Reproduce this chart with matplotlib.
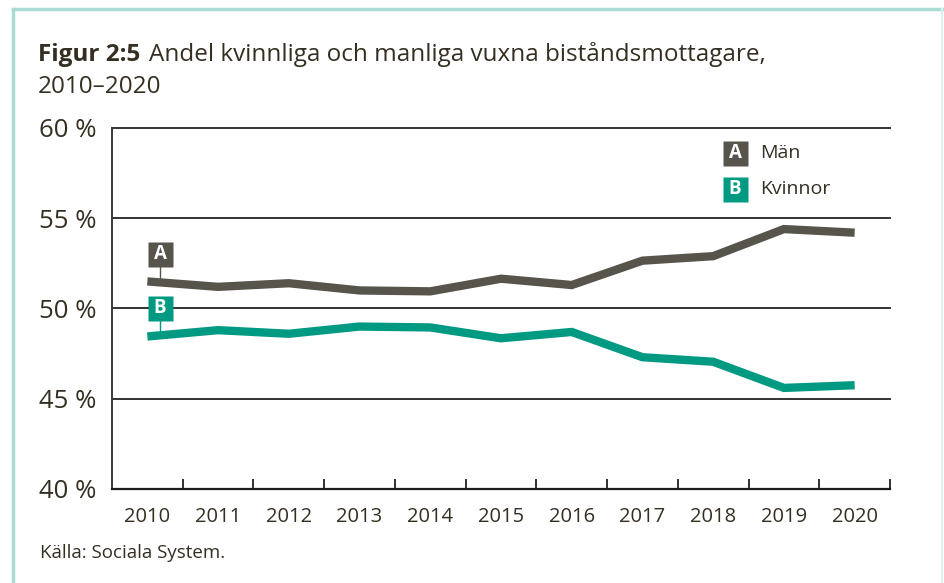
import matplotlib
matplotlib.use("Agg")
import matplotlib.pyplot as plt
from matplotlib.lines import Line2D
import numpy as np

years = ["2010", "2011", "2012", "2013", "2014", "2015", "2016", "2017", "2018", "2019", "2020"]
man = [51.5, 51.2, 51.4, 51.0, 50.95, 51.65, 51.3, 52.65, 52.9, 54.4, 54.2]
kvinnor = [48.45, 48.8, 48.6, 49.0, 48.95, 48.35, 48.7, 47.3, 47.05, 45.6, 45.75]
y_ticks = [40, 45, 50, 55, 60]

GREY = "#57544c"
TEAL = "#009a82"
TXT = "#352f22"
W, H = 944, 583

plt.rcParams["font.family"] = ["Open Sans", "DejaVu Sans"]

fig = plt.figure(figsize=(W / 100, H / 100), dpi=100)
ax = fig.add_axes([112 / W, 1 - 489 / H, (890 - 112) / W, (489 - 128) / H])

x = np.arange(len(years))
ax.plot(x, man, color=GREY, lw=6, solid_joinstyle="miter", solid_capstyle="butt", zorder=3)
ax.plot(x, kvinnor, color=TEAL, lw=6, solid_joinstyle="miter", solid_capstyle="butt", zorder=3)

ax.set_xlim(-0.5, len(years) - 0.5)
ax.set_ylim(40, 60)
ax.set_yticks(y_ticks)
ax.set_yticklabels([f"{v} %" for v in y_ticks])
for v in y_ticks[1:]:
    ax.axhline(v, color="#333333", lw=1.4, zorder=1, clip_on=False)

ax.set_xticks(x)
ax.set_xticklabels(years)
ax.set_xticks(np.arange(0.5, len(years)), minor=True)
ax.tick_params(axis="x", which="major", length=0, pad=13, labelsize=14.5, labelcolor=TXT)
ax.tick_params(axis="x", which="minor", direction="in", length=7, width=1.3, color="#222222")
ax.tick_params(axis="y", length=0, pad=11, labelsize=18.5, labelcolor=TXT)

for s in ["top", "right"]:
    ax.spines[s].set_visible(False)
ax.spines["left"].set_color("#3a3a3a")
ax.spines["left"].set_linewidth(1.4)
ax.spines["bottom"].set_color("#1a1a1a")
ax.spines["bottom"].set_linewidth(1.6)


def badge(xd, yd, letter, color):
    ax.plot(xd, yd, marker="s", ms=18, mfc=color, mec="none", zorder=5, clip_on=False)
    ax.text(xd, yd, letter, ha="center", va="center", color="white", fontsize=13.5,
            fontweight="bold", zorder=6)


# line labels with leaders
lx = 0.18
ax.plot([lx, lx], [man[0], 53.0], color=GREY, lw=1, zorder=2)
badge(lx, 53.0, "A", GREY)
ax.plot([lx, lx], [kvinnor[0], 50.0], color=TEAL, lw=1, zorder=2)
badge(lx, 50.0, "B", TEAL)

# legend
badge(8.31, 58.6, "A", GREY)
ax.text(8.67, 58.6, "Män", ha="left", va="center", fontsize=14, color=TXT)
badge(8.31, 56.6, "B", TEAL)
ax.text(8.67, 56.6, "Kvinnor", ha="left", va="center", fontsize=14, color=TXT)

# title
t1 = fig.text(38 / W, 1 - 61 / H, "Figur 2:5", fontsize=17.5, fontweight="bold", color=TXT, va="baseline")
fig.canvas.draw()
bb = t1.get_window_extent()
fig.text((bb.x1 + 9) / W, 1 - 61 / H, "Andel kvinnliga och manliga vuxna biståndsmottagare,",
         fontsize=17.5, color=TXT, va="baseline")
fig.text(38 / W, 1 - 93 / H, "2010–2020", fontsize=17.5, color=TXT, va="baseline")

fig.text(40 / W, 1 - 558 / H, "Källa: Sociala System.", fontsize=13.5, color=TXT, va="baseline")

# frame
fc = "#a9ddd3"
fig.add_artist(Line2D([13 / W, 1], [1 - 9 / H, 1 - 9 / H], color=fc, lw=2.5, transform=fig.transFigure))
fig.add_artist(Line2D([13 / W, 13 / W], [0, 1 - 9 / H], color=fc, lw=2.5, transform=fig.transFigure))
fig.add_artist(Line2D([942 / W, 942 / W], [0, 1 - 9 / H], color="#dff1ee", lw=1.5, transform=fig.transFigure))

fig.savefig("out.png", dpi=100)
